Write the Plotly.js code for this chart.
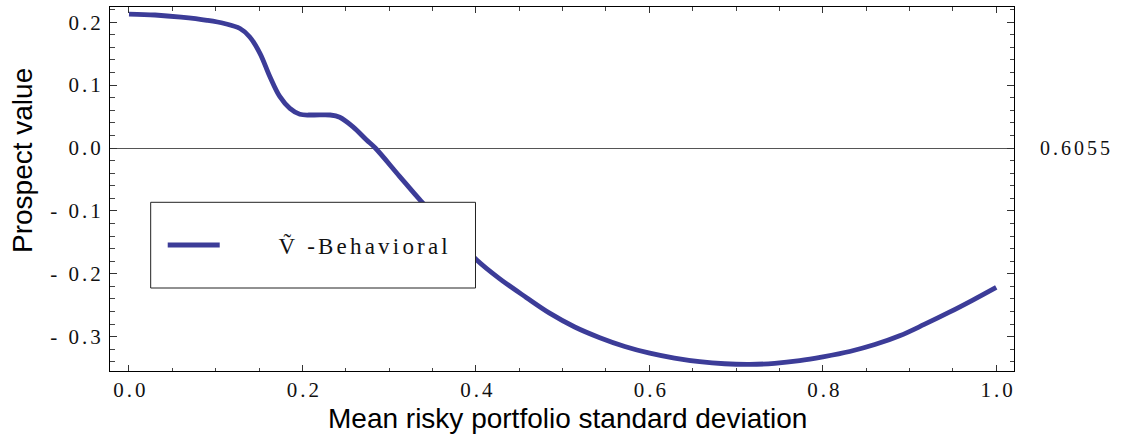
<!DOCTYPE html>
<html>
<head>
<meta charset="utf-8">
<script src="https://cdn.plot.ly/plotly-3.0.1.min.js"></script>
<style>
html, body { margin: 0; padding: 0; background: #fff; }
#chart { width: 1128px; height: 438px; }
#chart g.xtick text, #chart g.ytick text { letter-spacing: 3px; }
#chart g.annotation[data-index="0"] text { letter-spacing: 3px; }
#chart .legendtext { letter-spacing: 3.2px; }
#chart g.legend g.scrollbox, #chart g.legend { clip-path: none !important; }
</style>
</head>
<body>
<div id="chart"></div>
<script>
// Mean risky portfolio standard deviation
const sigma = [0, 0.03, 0.06, 0.09, 0.11, 0.128, 0.139, 0.151, 0.1625, 0.174, 0.1855, 0.197, 0.212, 0.232, 0.243, 0.258, 0.274, 0.284, 0.312, 0.3365, 0.37, 0.401, 0.4276, 0.458, 0.485, 0.514, 0.5429, 0.5717, 0.6005, 0.629, 0.658, 0.687, 0.7157, 0.7445, 0.7734, 0.8, 0.831, 0.86, 0.8886, 0.917, 0.946, 0.973, 1.0];
// Prospect value, V~ behavioral
const prospect = [0.213, 0.2115, 0.208, 0.203, 0.198, 0.190, 0.177, 0.1506, 0.1134, 0.0816, 0.063, 0.0536, 0.0525, 0.0525, 0.049, 0.034, 0.0127, 0.0, -0.045, -0.084, -0.133, -0.178, -0.208, -0.2375, -0.2625, -0.2845, -0.3015, -0.3155, -0.3262, -0.334, -0.3397, -0.343, -0.344, -0.3423, -0.338, -0.332, -0.3235, -0.3125, -0.2985, -0.2805, -0.261, -0.2417, -0.2215];
const seriesName = "Ṽ -Behavioral";
const xTickVals = [0, 0.2, 0.4, 0.6, 0.8, 1.0];
const xTickText = ["0.0", "0.2", "0.4", "0.6", "0.8", "1.0"];
const yTickVals = [0.2, 0.1, 0.0, -0.1, -0.2, -0.3];
const yTickText = ["0.2", "0.1", "0.0", "- 0.1", "- 0.2", "- 0.3"];
const sideLabel = "0.6055";
const xTitle = "Mean risky portfolio standard deviation";
const yTitle = "Prospect value";

const lineColor = "rgb(60,60,152)";
const serif = "Liberation Serif, Times New Roman, serif";
const sans = "Liberation Sans, Arial, sans-serif";

const trace = {
  x: sigma, y: prospect, type: "scatter", mode: "lines",
  name: "\u00a0\u00a0\u00a0\u00a0\u00a0\u00a0" + seriesName,
  line: { color: lineColor, width: 4.8, shape: "spline", smoothing: 1 }
};

const layout = {
  width: 1128, height: 438,
  margin: { l: 110, r: 113.5, t: 7, b: 67, pad: 0 },
  paper_bgcolor: "#fff", plot_bgcolor: "#fff",
  showlegend: true,
  legend: {
    x: 0.055 + 3 / 904.5, y: 0.346, xanchor: "left", yanchor: "middle",
    bgcolor: "rgba(0,0,0,0)", borderwidth: 0,
    font: { family: serif, size: 23, color: "#111" },
    itemwidth: 52
  },
  xaxis: {
    range: [-0.0219, 1.0205], showgrid: false, zeroline: false,
    showline: true, linecolor: "#000", linewidth: 1, mirror: "allticks",
    ticks: "inside", ticklen: 6, tickcolor: "#333", tickwidth: 1,
    tickvals: xTickVals, ticktext: xTickText,
    tickfont: { family: serif, size: 21, color: "#111" },
    ticklabelstandoff: 0, ticklabelshift: 2,
    minor: { dtick: 0.05, tick0: 0, ticks: "inside", ticklen: 3.5, tickcolor: "#444", showgrid: false }
  },
  yaxis: {
    range: [-0.3545, 0.2242], showgrid: false,
    zeroline: true, zerolinecolor: "#555", zerolinewidth: 1,
    showline: true, linecolor: "#000", linewidth: 1, mirror: "allticks",
    ticks: "inside", ticklen: 7, tickcolor: "#333", tickwidth: 1,
    tickvals: yTickVals, ticktext: yTickText,
    tickfont: { family: serif, size: 21, color: "#111" },
    ticklabelstandoff: 1,
    minor: { dtick: 0.02, tick0: 0, ticks: "inside", ticklen: 4.5, tickcolor: "#444", showgrid: false }
  },
  shapes: [{
    type: "rect", xref: "paper", yref: "paper", layer: "above",
    x0: (150.7 - 110) / 904.5, x1: (475.7 - 110) / 904.5,
    y0: (371 - 288) / 364, y1: (371 - 202.3) / 364,
    fillcolor: "#fff", line: { color: "#222", width: 1 }
  }],
  annotations: [
    { text: sideLabel, xref: "paper", yref: "y", x: 1, y: 0, xanchor: "left", yanchor: "middle",
      xshift: 33, showarrow: false, font: { family: serif, size: 20, color: "#111" } },
    { text: yTitle, xref: "paper", yref: "paper", x: 0, y: (371 - 161) / 364,
      xanchor: "center", yanchor: "middle", xshift: -88, textangle: -90, showarrow: false,
      font: { family: sans, size: 28, color: "#000" } },
    { text: xTitle, xref: "paper", yref: "paper", x: 0.5, y: (371 - 418) / 364,
      xanchor: "center", yanchor: "middle", xshift: 5, showarrow: false,
      font: { family: sans, size: 28, color: "#000" } }
  ]
};

Plotly.newPlot("chart", [trace], layout, { staticPlot: true, displayModeBar: false });
</script>
</body>
</html>
